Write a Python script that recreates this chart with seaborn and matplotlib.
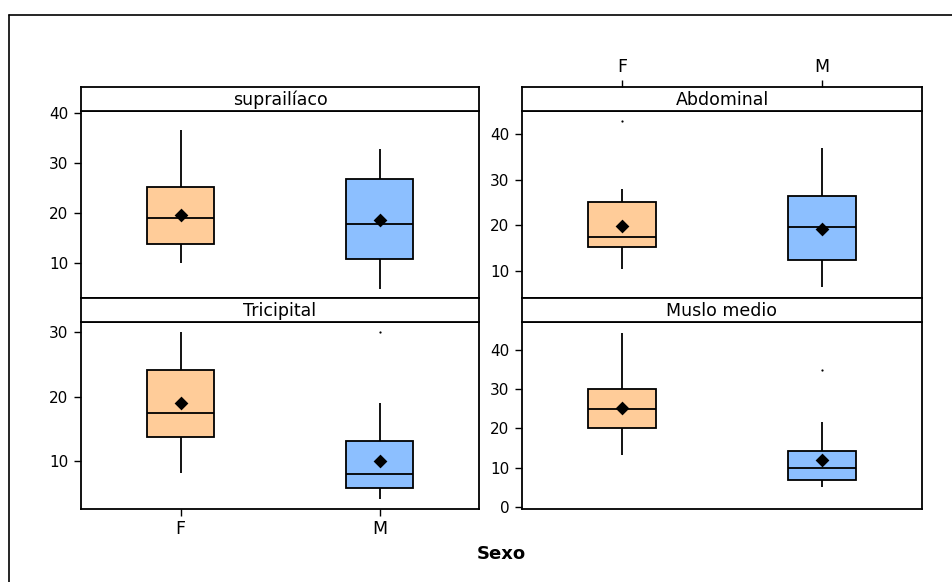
import numpy as np
import pandas as pd
import matplotlib
matplotlib.use("Agg")
import matplotlib.pyplot as plt
from matplotlib.lines import Line2D
import seaborn as sns

sns.set_style("white")
plt.rcParams['font.family'] = ['DejaVu Sans']

# ---- data ----
panels = ["suprailíaco", "Abdominal", "Tricipital", "Muslo medio"]
sexes = ["F", "M"]
# order: panel0 F, panel0 M, panel1 F, panel1 M, ...
whisker_low = [10.0, 4.9, 10.4, 6.4, 8.2, 4.2, 13.1, 5.1]
q1 = [13.8, 10.8, 15.2, 12.3, 13.8, 5.8, 20.0, 6.9]
median = [19.0, 17.8, 17.5, 19.5, 17.5, 8.1, 25.0, 10.0]
q3 = [25.3, 26.9, 25.0, 26.4, 24.2, 13.2, 30.0, 14.1]
whisker_high = [36.7, 32.8, 28.0, 36.9, 30.0, 19.0, 44.5, 21.6]
means = [19.6, 18.7, 19.8, 19.1, 19.0, 10.0, 25.2, 11.9]
outlier_panel = ["Abdominal", "Tricipital", "Muslo medio"]
outlier_sex = ["F", "M", "M"]
outlier_value = [42.9, 30.0, 34.9]
y_ticks = [[10, 20, 30, 40], [10, 20, 30, 40], [10, 20, 30], [0, 10, 20, 30, 40]]
y_limits = [(3.0, 40.5), (4.0, 45.1), (2.6, 31.6), (-0.6, 47.2)]

colors = {"F": "#FFCC99", "M": "#8CBFFF"}

rows = []
for i, (p, s) in enumerate([(p, s) for p in panels for s in sexes]):
    for v in (whisker_low[i], q1[i], median[i], q3[i], whisker_high[i]):
        rows.append({"panel": p, "Sexo": s, "valor": v})
df = pd.DataFrame(rows)
mean_df = pd.DataFrame({"panel": [p for p in panels for s in sexes],
                        "Sexo": [s for p in panels for s in sexes],
                        "valor": means})
out_df = pd.DataFrame({"panel": outlier_panel, "Sexo": outlier_sex, "valor": outlier_value})

W, H = 952, 582
fig = plt.figure(figsize=(W / 100, H / 100), dpi=100)

def frac(x0, y0, x1, y1):
    return [x0 / W, 1 - y1 / H, (x1 - x0) / W, (y1 - y0) / H]

# pixel boxes (x0, top, x1, bottom) for data area, strip above
layout = [
    (81, 111, 479, 298),
    (522, 111, 922, 298),
    (81, 322, 479, 509),
    (522, 322, 922, 509),
]
strip_h = 24
lw_frame = 1.3
ytick_fs = 11
xtick_fs = 12.5
strip_fs = 12.5

for k, p in enumerate(panels):
    x0, t, x1, b = layout[k]
    ax = fig.add_axes(frac(x0, t, x1, b))
    sax = fig.add_axes(frac(x0, t - strip_h, x1, t))
    sub = df[df.panel == p]
    sns.boxplot(data=sub, x="Sexo", y="valor", hue="Sexo", order=sexes,
                hue_order=sexes, palette=colors, width=0.34, whis=(0, 100),
                showcaps=False, linecolor="black", linewidth=1.3,
                saturation=1, legend=False, ax=ax)
    sns.stripplot(data=mean_df[mean_df.panel == p], x="Sexo", y="valor",
                  order=sexes, jitter=False, marker="D", size=7,
                  color="black", linewidth=0, ax=ax, zorder=5)
    osub = out_df[out_df.panel == p]
    if len(osub):
        sns.stripplot(data=osub, x="Sexo", y="valor", order=sexes, jitter=False,
                      marker="o", size=1.6, color="black", linewidth=0, ax=ax,
                      zorder=5)
    ax.set_xlim(-0.5, 1.5)
    ax.set_ylim(*y_limits[k])
    ax.set_yticks(y_ticks[k])
    ax.set_yticklabels([str(v) for v in y_ticks[k]])
    ax.set_xlabel("")
    ax.set_ylabel("")
    ax.tick_params(axis="y", left=True, direction="out", length=5, width=1,
                   labelsize=ytick_fs, pad=4, colors="black")
    if k == 2:
        ax.set_xticks([0, 1])
        ax.set_xticklabels(sexes)
        ax.tick_params(axis="x", bottom=True, direction="out", length=5, width=1,
                       labelsize=xtick_fs, pad=3, colors="black")
    else:
        ax.set_xticks([])
    for sp in ax.spines.values():
        sp.set_visible(True)
        sp.set_color("black")
        sp.set_linewidth(lw_frame)

    # strip
    sax.set_xlim(-0.5, 1.5)
    sax.set_ylim(0, 1)
    sax.set_yticks([])
    sax.set_facecolor("white")
    sax.text(0.5, 0.45, p, transform=sax.transAxes, ha="center", va="center",
             fontsize=strip_fs, color="black")
    if k == 1:
        sax.set_xticks([0, 1])
        sax.set_xticklabels(sexes)
        sax.tick_params(axis="x", top=True, labeltop=True, bottom=False,
                        labelbottom=False, direction="out", length=5, width=1,
                        labelsize=xtick_fs, pad=3, colors="black")
    else:
        sax.set_xticks([])
    for sp in sax.spines.values():
        sp.set_visible(True)
        sp.set_color("black")
        sp.set_linewidth(lw_frame)

fig.text(501 / W, 1 - 554 / H, "Sexo", ha="center", va="center",
         fontsize=13, fontweight="bold", color="black")

# outer frame (left and top edges visible in the reference)
bx, by = 8.5 / W, 1 - 14.5 / H
fig.add_artist(Line2D([bx, bx], [0, by], color="black", lw=1.2,
                      transform=fig.transFigure))
fig.add_artist(Line2D([bx, 1], [by, by], color="black", lw=1.2,
                      transform=fig.transFigure))

fig.savefig("out.png", dpi=100, facecolor="white")
